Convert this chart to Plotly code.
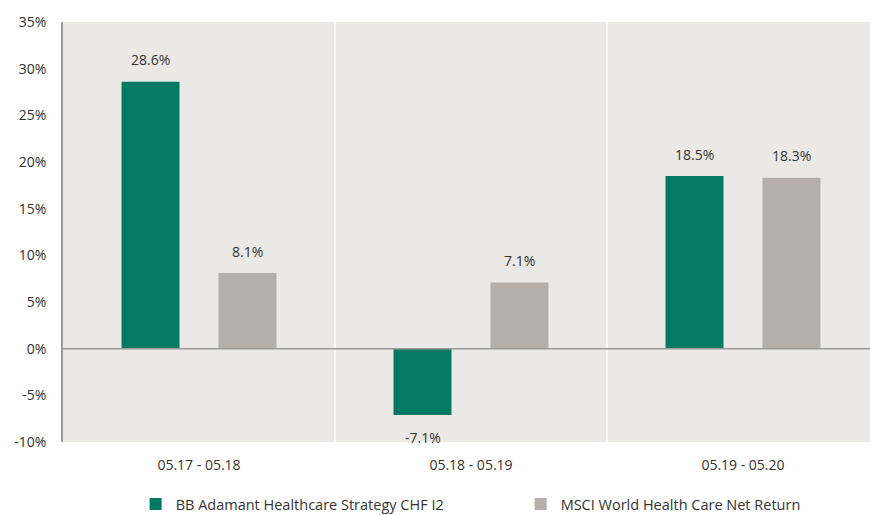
import plotly.graph_objects as go

categories = ["05.17 - 05.18", "05.18 - 05.19", "05.19 - 05.20"]
fund_name = "BB Adamant Healthcare Strategy CHF I2"
bench_name = "MSCI World Health Care Net Return"
fund_values = [28.6, -7.1, 18.5]
bench_values = [8.1, 7.1, 18.3]
y_ticks = [-10, -5, 0, 5, 10, 15, 20, 25, 30, 35]
y_tick_labels = ["-10%", "-5%", "0%", "5%", "10%", "15%", "20%", "25%", "30%", "35%"]

GREEN = "#047a64"
GREY = "#b6aea9"
BG = "#ebe9e6"
TXT = "#333333"
FONT = "Open Sans"
FS = 14

x_idx = list(range(len(categories)))

fig = go.Figure()
fig.add_trace(go.Bar(x=x_idx, y=fund_values, name=fund_name, marker_color=GREEN,
                     marker_line_width=0, hoverinfo="skip"))
fig.add_trace(go.Bar(x=x_idx, y=bench_values, name=bench_name, marker_color=GREY,
                     marker_line_width=0, hoverinfo="skip"))

slot = 0.3565  # offset of bar centre from category centre in x units
annotations = []
for vals, off in ((fund_values, -slot / 2), (bench_values, slot / 2)):
    for i, v in enumerate(vals):
        annotations.append(dict(
            x=i + off, y=v, xref="x", yref="y", text=f"{v:.1f}%", showarrow=False,
            yshift=22 if v >= 0 else -23, font=dict(family=FONT, size=FS, color=TXT)))

shapes = []
for b in (0.5, 1.5):
    shapes.append(dict(type="line", xref="x", yref="paper", x0=b, x1=b, y0=0, y1=1,
                       line=dict(color="white", width=1.5), layer="below"))
shapes.append(dict(type="line", xref="paper", yref="y", x0=0, x1=1, y0=0, y1=0,
                   line=dict(color="#9a9a9a", width=1.5)))

fig.update_layout(
    width=870, height=515,
    margin=dict(l=63, r=0, t=22, b=73, autoexpand=False),
    paper_bgcolor="white", plot_bgcolor=BG,
    barmode="group", bargap=0.287, bargroupgap=0.402,
    font=dict(family=FONT, size=FS, color=TXT),
    showlegend=True,
    legend=dict(orientation="h", x=0.090, xanchor="left", y=-0.148, yanchor="middle",
                font=dict(family=FONT, size=14.5, color=TXT), entrywidth=340,
                entrywidthmode="pixels", itemclick=False, itemdoubleclick=False),
    annotations=annotations, shapes=shapes,
    xaxis=dict(range=[-0.5, 2.467], tickvals=x_idx, ticktext=categories, showgrid=False,
               zeroline=False, showline=False, ticks="outside", ticklen=10,
               tickcolor="rgba(0,0,0,0)", fixedrange=True, automargin=False,
               tickfont=dict(family=FONT, size=FS, color=TXT)),
    yaxis=dict(range=[-10, 35], tickvals=y_ticks, ticktext=y_tick_labels, showgrid=False,
               zeroline=False, showline=True, linecolor="#9a9a9a", linewidth=1.5,
               ticks="outside", ticklen=12, tickcolor="rgba(0,0,0,0)", fixedrange=True,
               automargin=False, tickfont=dict(family=FONT, size=FS, color=TXT)),
)

fig.write_html(
    "out.html",
    config={"displayModeBar": False},
    post_script="document.body.style.margin='0';document.body.style.overflow='hidden';",
)
